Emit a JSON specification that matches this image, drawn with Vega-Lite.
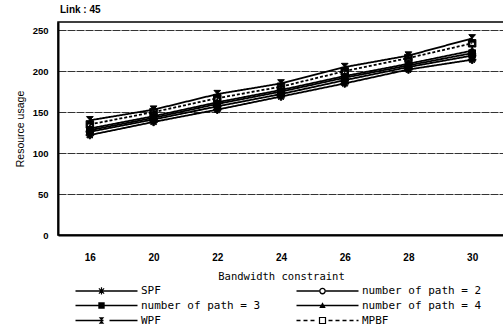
{
  "$schema": "https://vega.github.io/schema/vega-lite/v6.json",
  "autosize": "none",
  "width": 446,
  "height": 213,
  "padding": {"left": 58, "top": 22, "right": 0, "bottom": 94},
  "background": "white",
  "title": {"text": "Link : 45", "anchor": "start", "frame": "group", "fontSize": 10, "fontWeight": "bold", "font": "Liberation Sans", "offset": 7, "dx": 2, "color": "black"},
  "config": {
    "view": {"stroke": "black", "strokeWidth": 1.5},
    "axis": {"labelFont": "Liberation Sans", "titleFont": "Liberation Sans", "labelColor": "black", "titleColor": "black", "domainColor": "black", "domainWidth": 2, "ticks": false}
  },
  "datasets": {
    "series": [
      {"s": "SPF", "x": 16, "y": 122}, {"s": "SPF", "x": 20, "y": 138}, {"s": "SPF", "x": 22, "y": 153}, {"s": "SPF", "x": 24, "y": 169}, {"s": "SPF", "x": 26, "y": 185}, {"s": "SPF", "x": 28, "y": 202}, {"s": "SPF", "x": 30, "y": 214},
      {"s": "number of path = 2", "x": 16, "y": 126}, {"s": "number of path = 2", "x": 20, "y": 141}, {"s": "number of path = 2", "x": 22, "y": 157}, {"s": "number of path = 2", "x": 24, "y": 172}, {"s": "number of path = 2", "x": 26, "y": 189}, {"s": "number of path = 2", "x": 28, "y": 205}, {"s": "number of path = 2", "x": 30, "y": 219},
      {"s": "number of path = 3", "x": 16, "y": 128}, {"s": "number of path = 3", "x": 20, "y": 143}, {"s": "number of path = 3", "x": 22, "y": 160}, {"s": "number of path = 3", "x": 24, "y": 175}, {"s": "number of path = 3", "x": 26, "y": 192}, {"s": "number of path = 3", "x": 28, "y": 207}, {"s": "number of path = 3", "x": 30, "y": 222},
      {"s": "number of path = 4", "x": 16, "y": 130}, {"s": "number of path = 4", "x": 20, "y": 145}, {"s": "number of path = 4", "x": 22, "y": 162}, {"s": "number of path = 4", "x": 24, "y": 177}, {"s": "number of path = 4", "x": 26, "y": 194}, {"s": "number of path = 4", "x": 28, "y": 209}, {"s": "number of path = 4", "x": 30, "y": 225},
      {"s": "WPF", "x": 16, "y": 140}, {"s": "WPF", "x": 20, "y": 153}, {"s": "WPF", "x": 22, "y": 172}, {"s": "WPF", "x": 24, "y": 185}, {"s": "WPF", "x": 26, "y": 205}, {"s": "WPF", "x": 28, "y": 219}, {"s": "WPF", "x": 30, "y": 240},
      {"s": "MPBF", "x": 16, "y": 135}, {"s": "MPBF", "x": 20, "y": 150}, {"s": "MPBF", "x": 22, "y": 167}, {"s": "MPBF", "x": 24, "y": 181}, {"s": "MPBF", "x": 26, "y": 200}, {"s": "MPBF", "x": 28, "y": 216}, {"s": "MPBF", "x": 30, "y": 234}
    ]
  },
  "resolve": {"scale": {"shape": "independent", "strokeDash": "independent"}},
  "layer": [
    {
      "data": {"name": "series"},
      "mark": {"type": "line", "stroke": "black", "strokeWidth": 1.8},
      "encoding": {
        "x": {"field": "x", "type": "ordinal", "scale": {"type": "point", "padding": 0.5},
              "axis": {"title": "Bandwidth constraint", "labelAngle": 0, "labelFontSize": 10, "labelFontWeight": "bold", "labelPadding": 17, "titleFont": "DejaVu Sans Mono", "titleFontSize": 10.5, "titleFontWeight": "normal", "titlePadding": 9, "grid": false}},
        "y": {"field": "y", "type": "quantitative", "scale": {"domain": [0, 250]},
              "axis": {"title": "Resource usage", "values": [0, 50, 100, 150, 200, 250], "labelFontSize": 9.5, "labelFontWeight": "bold", "labelPadding": 10, "titleFontSize": 10.5, "titleFontWeight": "normal", "titlePadding": 7, "grid": true, "gridColor": "#333", "gridDash": [8, 1], "gridWidth": 1}},
        "detail": {"field": "s", "type": "nominal"},
        "strokeDash": {"field": "s", "type": "nominal", "legend": null,
          "scale": {"domain": ["SPF", "number of path = 2", "number of path = 3", "number of path = 4", "WPF", "MPBF"], "range": [[1, 0], [1, 0], [1, 0], [1, 0], [1, 0], [3, 2]]}}
      }
    },
    {
      "data": {"name": "series"},
      "mark": {"type": "point", "filled": true, "fill": "black", "stroke": "black", "strokeWidth": 1, "size": 56, "opacity": 1},
      "encoding": {
        "x": {"field": "x", "type": "ordinal"},
        "y": {"field": "y", "type": "quantitative"},
        "shape": {"field": "s", "type": "nominal", "legend": null,
          "scale": {"domain": ["SPF", "number of path = 2", "number of path = 3", "number of path = 4", "WPF", "MPBF"],
            "range": [
              "M-1,-0.2H1V0.2H-1ZM-0.2,-1H0.2V1H-0.2ZM-0.559,-0.841L0.841,0.559L0.559,0.841L-0.841,-0.559ZM-0.841,0.559L0.559,-0.841L0.841,-0.559L-0.559,0.841Z",
              "M1,0A1,1 0 1,0 -1,0A1,1 0 1,0 1,0ZM0.55,0A0.55,0.55 0 1,1 -0.55,0A0.55,0.55 0 1,1 0.55,0Z",
              "M-0.9,-0.9H0.9V0.9H-0.9Z",
              "M0,-1L1,0.8H-1Z",
              "M-0.9,-1H0.9L0,0ZM0,0L0.9,1H-0.9Z",
              "M-1,-1H1V1H-1ZM-0.6,-0.6V0.6H0.6V-0.6Z"
            ]}}
      }
    },
    {
      "data": {"values": []},
      "mark": {"type": "point", "filled": true, "fill": "black", "size": 64, "opacity": 1},
      "encoding": {
        "shape": {"field": "s", "type": "nominal",
          "scale": {"domain": ["SPF", "number of path = 2", "number of path = 3", "number of path = 4", "WPF", "MPBF"],
            "range": [
              "M-1,-0.18H14.5V0.18H-1ZM4.6,-0.15H6.4V0.15H4.6ZM5.35,-0.9H5.65V0.9H5.35ZM4.956,-0.756L6.256,0.544L6.044,0.756L4.744,-0.544ZM4.744,0.544L6.044,-0.756L6.256,-0.544L4.956,0.756Z",
              "M-1,-0.18H4.65V0.18H-1ZM6.35,-0.18H14.5V0.18H6.35ZM6.35,0A0.85,0.85 0 1,0 4.65,0A0.85,0.85 0 1,0 6.35,0ZM6.0,0A0.5,0.5 0 1,1 5.0,0A0.5,0.5 0 1,1 6.0,0Z",
              "M-1,-0.18H14.5V0.18H-1ZM4.7,-0.8H6.3V0.8H4.7Z",
              "M-1,-0.18H14.5V0.18H-1ZM5.5,-0.8L6.3,0.6H4.7Z",
              "M-1,-0.18H6V0.18H-1ZM7.5,-0.18H14.5V0.18H7.5ZM4.8,-0.8H6.2L5.5,0ZM5.5,0L6.2,0.8H4.8Z",
              "M-1,-0.18H0V0.18H-1ZM0.75,-0.18H1.75V0.18H0.75ZM2.5,-0.18H3.5V0.18H2.5ZM7,-0.18H8V0.18H7ZM8.75,-0.18H9.75V0.18H8.75ZM10.5,-0.18H11.5V0.18H10.5ZM12.25,-0.18H13.25V0.18H12.25ZM14,-0.18H14.5V0.18H14ZM4.6,-0.9H6.4V0.9H4.6ZM4.9,-0.6V0.6H6.1V-0.6Z"
            ]},
          "legend": {"title": null, "orient": "none", "legendX": 16, "legendY": 263, "columns": 2, "direction": "horizontal", "gridAlign": "all", "columnPadding": 32, "rowPadding": 0, "padding": 0,
            "labelFont": "DejaVu Sans Mono", "labelFontSize": 11, "labelColor": "black", "labelOffset": 56,
            "symbolFillColor": "black", "symbolOpacity": 1, "symbolSize": 64,
            "encode": {"symbols": {"update": {"fill": {"value": "black"}, "fillOpacity": {"value": 1}, "opacity": {"value": 1}}}}}}
      }
    }
  ]
}
